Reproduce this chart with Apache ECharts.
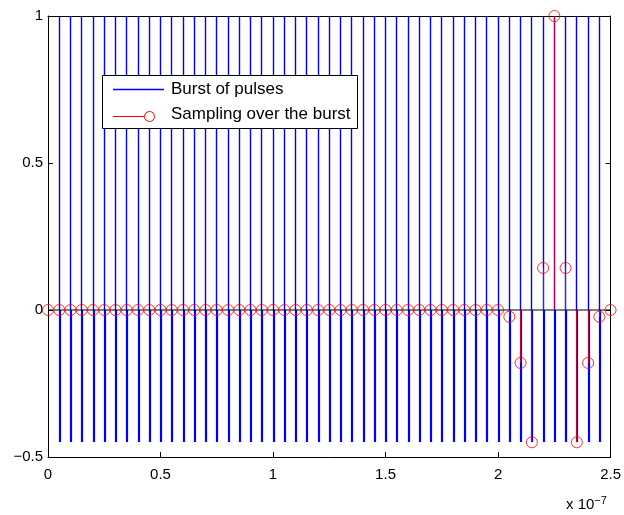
<!DOCTYPE html>
<html>
<head>
<meta charset="utf-8">
<script src="https://cdn.jsdelivr.net/npm/echarts@6/dist/echarts.min.js"></script>
<style>
html,body{margin:0;padding:0;background:#fff;}
#chart{width:624px;height:515px;}
</style>
</head>
<body>
<div id="chart"></div>
<script>
// x values in units of 1e-7 s
var pulseX = [0.05,0.10,0.15,0.20,0.25,0.30,0.35,0.40,0.45,0.50,0.55,0.60,0.65,0.70,0.75,0.80,0.85,0.90,0.95,1.00,
  1.05,1.10,1.15,1.20,1.25,1.30,1.35,1.40,1.45,1.50,1.55,1.60,1.65,1.70,1.75,1.80,1.85,1.90,1.95,2.00,
  2.05,2.10,2.15,2.20,2.25,2.30,2.35,2.40,2.45];
var pulseHigh = [1,1,1,1,1,1,1,1,1,1,1,1,1,1,1,1,1,1,1,1,1,1,1,1,1,1,1,1,1,1,1,1,1,1,1,1,1,1,1,1,1,1,1,1,1,1,1,1,1];
var pulseLow = [-0.45,-0.45,-0.45,-0.45,-0.45,-0.45,-0.45,-0.45,-0.45,-0.45,-0.45,-0.45,-0.45,-0.45,-0.45,-0.45,-0.45,-0.45,-0.45,-0.45,
  -0.45,-0.45,-0.45,-0.45,-0.45,-0.45,-0.45,-0.45,-0.45,-0.45,-0.45,-0.45,-0.45,-0.45,-0.45,-0.45,-0.45,-0.45,-0.45,-0.45,
  -0.45,-0.45,-0.45,-0.45,-0.45,-0.45,-0.45,-0.45,-0.45];
var sampleX = [0.00,0.05,0.10,0.15,0.20,0.25,0.30,0.35,0.40,0.45,0.50,0.55,0.60,0.65,0.70,0.75,0.80,0.85,0.90,0.95,1.00,
  1.05,1.10,1.15,1.20,1.25,1.30,1.35,1.40,1.45,1.50,1.55,1.60,1.65,1.70,1.75,1.80,1.85,1.90,1.95,2.00,
  2.05,2.10,2.15,2.20,2.25,2.30,2.35,2.40,2.45,2.50];
var sampleY = [0,0,0,0,0,0,0,0,0,0,0,0,0,0,0,0,0,0,0,0,0,
  0,0,0,0,0,0,0,0,0,0,0,0,0,0,0,0,0,0,0,0,
  -0.023,-0.18,-0.45,0.143,1.0,0.143,-0.45,-0.18,-0.023,0];
var xTicks = [0,0.5,1,1.5,2,2.5];
var yTicks = [-0.5,0,0.5,1];
var legendNames = ['Burst of pulses','Sampling over the burst'];

var FONT = 'Liberation Sans, Arial, sans-serif';
var chart = echarts.init(document.getElementById('chart'));

var pulseData = pulseX.map(function(x,i){return [x,pulseHigh[i],pulseLow[i]];});
var stemData = sampleX.map(function(x,i){return [x,sampleY[i]];});

function fmtY(v){ return (v<0?'\u2212':'') + Math.abs(v); }

var option = {
  animation:false,
  backgroundColor:'#fff',
  grid:{left:48,right:13,top:16,bottom:58,show:false},
  xAxis:[{
    type:'value',min:xTicks[0],max:xTicks[xTicks.length-1],interval:0.5,position:'bottom',
    axisLine:{show:true,onZero:false,lineStyle:{color:'#000',width:1}},
    axisTick:{show:true,inside:true,length:5,lineStyle:{color:'#000'}},
    axisLabel:{color:'#000',fontFamily:FONT,fontSize:15,margin:10,formatter:function(v){return String(v);}},
    splitLine:{show:false}
  },{
    type:'value',min:xTicks[0],max:xTicks[xTicks.length-1],interval:0.5,position:'top',
    axisLine:{show:true,onZero:false,lineStyle:{color:'#000',width:1}},
    axisTick:{show:true,inside:true,length:5,lineStyle:{color:'#000'}},
    axisLabel:{show:false},splitLine:{show:false}
  }],
  yAxis:[{
    type:'value',min:yTicks[0],max:yTicks[yTicks.length-1],interval:0.5,position:'left',
    axisLine:{show:true,onZero:false,lineStyle:{color:'#000',width:1}},
    axisTick:{show:true,inside:true,length:5,lineStyle:{color:'#000'}},
    axisLabel:{color:'#000',fontFamily:FONT,fontSize:15,margin:5,formatter:fmtY},
    splitLine:{show:false}
  },{
    type:'value',min:yTicks[0],max:yTicks[yTicks.length-1],interval:0.5,position:'right',
    axisLine:{show:true,onZero:false,lineStyle:{color:'#000',width:1}},
    axisTick:{show:true,inside:true,length:5,lineStyle:{color:'#000'}},
    axisLabel:{show:false},splitLine:{show:false}
  }],
  series:[{
    name:legendNames[0],type:'custom',xAxisIndex:0,yAxisIndex:0,
    data:pulseData,clip:true,z:2,
    renderItem:function(params,api){
      var x = api.value(0);
      var p0 = api.coord([x,0]);
      var pH = api.coord([x,api.value(1)]);
      var pL = api.coord([x,api.value(2)]);
      var px = Math.floor(p0[0]);
      return {type:'group',children:[
        {type:'line',shape:{x1:px+0.5,y1:Math.round(p0[1]),x2:px+0.5,y2:Math.round(pH[1])},style:{stroke:'#0000ff',lineWidth:1.4}},
        {type:'line',shape:{x1:px+1,y1:Math.round(p0[1]),x2:px+1,y2:Math.round(pL[1])},style:{stroke:'#0000ff',lineWidth:2.2}}
      ]};
    }
  },{
    name:'baseline',type:'line',xAxisIndex:0,yAxisIndex:0,
    data:[[0,0],[2.5,0]],symbol:'none',z:3,
    lineStyle:{color:'#000',width:1}
  },{
    name:legendNames[1]+' stems',type:'custom',xAxisIndex:0,yAxisIndex:0,
    data:stemData,z:4,
    renderItem:function(params,api){
      var x = api.value(0);
      var p0 = api.coord([x,0]);
      var p1 = api.coord([x,api.value(1)]);
      var px = Math.floor(p0[0])+0.5;
      return {type:'line',shape:{x1:px,y1:p0[1],x2:px,y2:p1[1]},style:{stroke:'#ff0000',lineWidth:1,opacity:0.7}};
    }
  },{
    name:legendNames[1],type:'scatter',xAxisIndex:0,yAxisIndex:0,
    data:stemData,z:5,symbol:'circle',symbolSize:11,
    itemStyle:{color:'rgba(0,0,0,0)',borderColor:'#ff0000',borderWidth:1}
  }],
  graphic:[
    {type:'rect',left:102,top:75,shape:{width:255,height:53},style:{fill:'#fff',stroke:'#000',lineWidth:1},z:100},
    {type:'line',shape:{x1:113,y1:89.5,x2:164,y2:89.5},style:{stroke:'#0000ff',lineWidth:1.4},z:101},
    {type:'text',left:171,top:81,style:{text:legendNames[0],font:'17px '+FONT,fill:'#000'},z:101},
    {type:'line',shape:{x1:113,y1:116.5,x2:144,y2:116.5},style:{stroke:'#ff0000',lineWidth:1},z:101},
    {type:'circle',shape:{cx:149.5,cy:116.5,r:5},style:{fill:'none',stroke:'#ff0000',lineWidth:1},z:101},
    {type:'text',left:171,top:106,style:{text:legendNames[1],font:'17px '+FONT,fill:'#000'},z:101},
    {type:'text',left:566,top:495,style:{rich:{a:{font:'15px '+FONT,fill:'#000'},s:{font:'11px '+FONT,fill:'#000',verticalAlign:'top',padding:[0,0,8,0]}},text:'{a|x 10}{s|\u22127}'},z:101}
  ]
};
chart.setOption(option);
</script>
</body>
</html>
